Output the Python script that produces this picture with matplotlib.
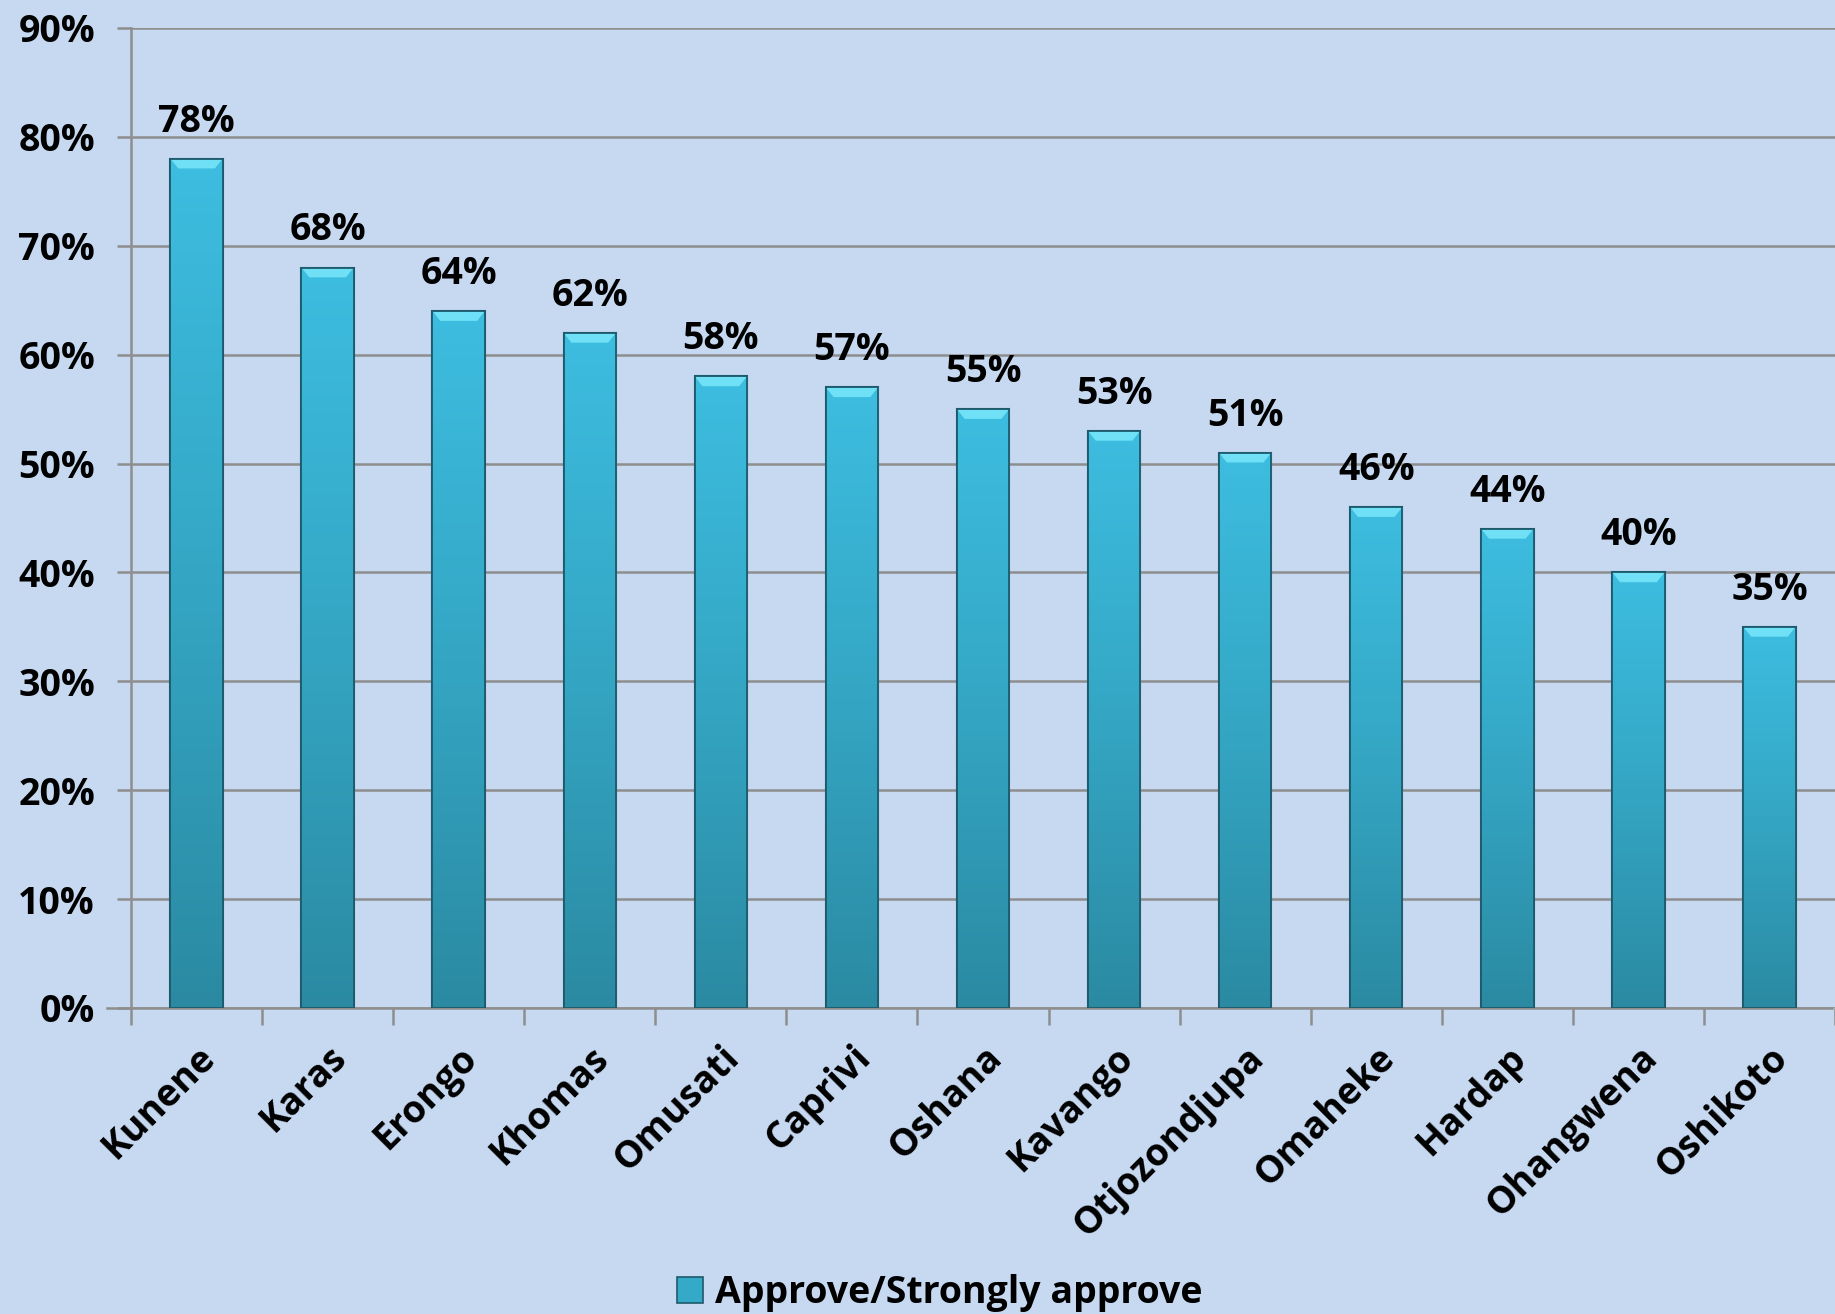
import numpy as np
import matplotlib.pyplot as plt
from matplotlib.colors import LinearSegmentedColormap
from matplotlib.patches import Patch, Polygon

# ========== 数据 ==========
regions = ['Kunene', 'Karas', 'Erongo', 'Khomas', 'Omusati', 'Caprivi', 'Oshana',
           'Kavango', 'Otjozondjupa', 'Omaheke', 'Hardap', 'Ohangwena', 'Oshikoto']
approve = [78, 68, 64, 62, 58, 57, 55, 53, 51, 46, 44, 40, 35]
series_name = 'Approve/Strongly approve'
y_ticks = [0, 10, 20, 30, 40, 50, 60, 70, 80, 90]

BG = '#c6d9f1'
GRID = '#8e8e8e'
FS = 27
plt.rcParams['font.family'] = ['Open Sans', 'DejaVu Sans']
plt.rcParams['font.weight'] = 'bold'

fig = plt.figure(figsize=(18.35, 13.14), dpi=100, facecolor=BG)
ax = fig.add_axes([0.0714, 0.2329, 0.9286, 0.7458], facecolor=BG)

x = np.arange(len(regions))
bw = 0.40
bars = ax.bar(x, approve, width=bw, color='#35a9c8', edgecolor='#1d5a6b',
              linewidth=1.5, zorder=3)

# 渐变填充 (top light cyan -> bottom darker teal)
cmap = LinearSegmentedColormap.from_list('bar', ['#2b8aa2', '#34a6c4', '#3dbde0'])
grad = np.linspace(0, 1, 256).reshape(-1, 1)
for b, v in zip(bars, approve):
    x0 = b.get_x()
    im = ax.imshow(grad, cmap=cmap, origin='lower', aspect='auto',
                   extent=(x0, x0 + bw, 0, v), zorder=3.5)
    im.set_clip_path(b)
    # bevel on top
    bh = 0.9
    bev = Polygon([(x0, v), (x0 + bw, v), (x0 + bw - 0.06, v - bh), (x0 + 0.06, v - bh)],
                  closed=True, facecolor='#6fe0f5', edgecolor='none', zorder=4)
    ax.add_patch(bev)
    edge = plt.Rectangle((x0, 0), bw, v, fill=False, edgecolor='#1d5a6b',
                         linewidth=1.3, zorder=5)
    ax.add_patch(edge)
    ax.annotate(f'{v}%', (x0 + bw / 2, v), xytext=(0, 13), textcoords='offset points',
                ha='center', va='bottom', fontsize=FS, fontweight='bold', color='black')

ax.set_ylim(0, 90)
ax.set_xlim(-0.5, 12.48)
ax.set_yticks(y_ticks)
ax.set_yticklabels([f'{t}%' for t in y_ticks], fontsize=FS, fontweight='bold')
ax.yaxis.grid(True, color=GRID, linewidth=1.8, zorder=0)
ax.set_axisbelow(True)

ax.set_xticks(np.arange(len(regions) + 1) - 0.5, minor=False)
ax.set_xticklabels([])
ax.set_xticks(x, minor=True)
ax.set_xticklabels(regions, minor=True, rotation=45, ha='right', va='top',
                   rotation_mode='anchor', fontsize=FS, fontweight='bold')
ax.tick_params(axis='x', which='major', length=12, width=1.8, color=GRID)
ax.tick_params(axis='x', which='minor', length=0, pad=22)
ax.tick_params(axis='y', length=10, width=1.8, color=GRID, pad=16)

for s in ['top', 'right']:
    ax.spines[s].set_visible(False)
for s in ['left', 'bottom']:
    ax.spines[s].set_color(GRID)
    ax.spines[s].set_linewidth(1.8)
ax.spines['bottom'].set_bounds(-0.68, 12.48)

handle = Patch(facecolor='#35a9c8', edgecolor='#1d5a6b', linewidth=1.2)
fig.legend([handle], [series_name], loc='center', bbox_to_anchor=(0.512, 0.016),
           frameon=False, prop={'weight': 'bold', 'size': FS},
           handlelength=0.7, handleheight=0.7, handletextpad=0.3)

fig.savefig('out.png', dpi=100, facecolor=BG)
